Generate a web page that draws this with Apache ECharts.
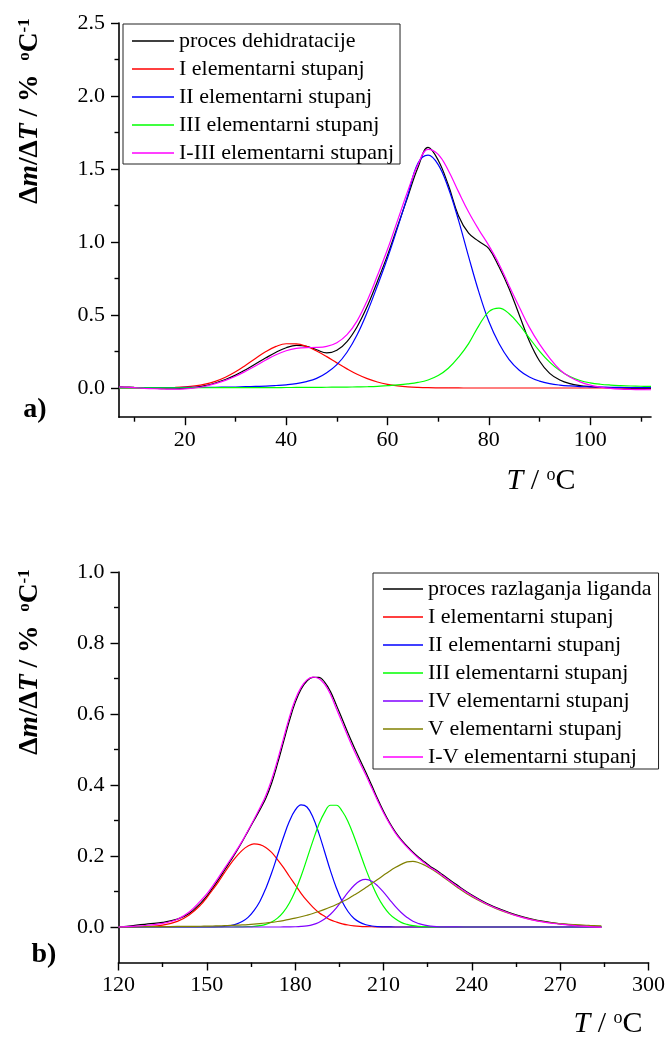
<!DOCTYPE html>
<html><head><meta charset="utf-8">
<script src="https://cdn.jsdelivr.net/npm/echarts@6/dist/echarts.min.js"></script>
<style>html,body{margin:0;padding:0;background:#fff}#c{width:667px;height:1039px}</style>
</head><body><div id="c"></div><script>
// ---------- chart a) : dehydration ----------
const tempA = [7,8,10,12,14,16,18,20,22,24,26,28,30,32,34,36,38,40,42,44,46,48,50,52,54,56,58,60,62,64,66,68,70,72,74,76,78,80,82,84,86,88,90,92,94,96,98,100,102,104,106,108,110,112];
const dehidratacija = [0.008,0.007,0.004,0.001,-0.002,-0.004,-0.004,-0.002,0.004,0.016,0.034,0.058,0.088,0.125,0.166,0.207,0.245,0.276,0.292,0.286,0.262,0.240,0.258,0.318,0.420,0.560,0.730,0.910,1.110,1.310,1.510,1.648,1.560,1.390,1.180,1.060,1.005,0.955,0.830,0.680,0.500,0.320,0.185,0.100,0.055,0.030,0.017,0.010,0.005,0.002,0.000,-0.002,-0.003,-0.004];
const a_I = [0,0,0.0001,0.0002,0.0006,0.0015,0.0034,0.0072,0.0143,0.0265,0.0457,0.0737,0.111,0.156,0.204,0.250,0.285,0.303,0.302,0.285,0.254,0.215,0.172,0.131,0.094,0.064,0.041,0.025,0.0146,0.008,0.0042,0.002,0.001,0.0004,0.0002,0.0001,0,0,0,0,0,0,0,0,0,0,0,0,0,0,0,0,0,0];
const a_II = [0.002,0.002,0.002,0.002,0.003,0.003,0.003,0.004,0.004,0.005,0.005,0.006,0.007,0.009,0.011,0.013,0.017,0.022,0.030,0.044,0.066,0.105,0.160,0.245,0.365,0.520,0.700,0.890,1.100,1.320,1.540,1.595,1.530,1.370,1.150,0.900,0.660,0.455,0.305,0.195,0.122,0.075,0.047,0.030,0.020,0.014,0.010,0.008,0.006,0.005,0.004,0.003,0.003,0.002];
const a_III = [0.0011,0.0011,0.0012,0.0012,0.0013,0.0014,0.0015,0.0016,0.0017,0.0018,0.0019,0.0020,0.0022,0.0024,0.0026,0.0028,0.0031,0.0034,0.0037,0.0041,0.0046,0.0051,0.0058,0.0065,0.0075,0.0086,0.0110,0.016,0.021,0.028,0.038,0.055,0.085,0.135,0.210,0.304,0.426,0.523,0.547,0.509,0.434,0.342,0.253,0.177,0.119,0.078,0.0514,0.0354,0.0258,0.0201,0.0164,0.0137,0.012,0.0106];
const a_sum = [0.008,0.006,0.002,-0.002,-0.005,-0.007,-0.008,-0.006,0.000,0.012,0.030,0.052,0.080,0.115,0.152,0.192,0.228,0.255,0.271,0.277,0.278,0.285,0.310,0.365,0.460,0.600,0.770,0.950,1.150,1.350,1.530,1.635,1.600,1.490,1.345,1.205,1.085,0.975,0.850,0.700,0.555,0.415,0.300,0.205,0.125,0.075,0.042,0.020,0.006,-0.003,-0.008,-0.010,-0.011,-0.012];
const xTicksA = [20,40,60,80,100];
const xMinorA = [10,30,50,70,90,110];
const yTicksA = [0,0.5,1.0,1.5,2.0,2.5];
const yMinorA = [0.25,0.75,1.25,1.75,2.25];
const namesA = ['proces dehidratacije','I elementarni stupanj','II elementarni stupanj','III elementarni stupanj','I-III elementarni stupanj'];

// ---------- chart b) : ligand decomposition ----------
const tempB = [120,125,130,135,140,144,148,150,152,154,156,158,160,162,164,166,168,170,172,174,176,178,180,182,184,186,188,190,192,194,196,198,200,202,204,206,208,210,212,214,216,218,220,222,224,226,228,230,235,240,245,250,255,260,265,270,275,280,284];
const razlaganje = [0.000,0.004,0.009,0.013,0.022,0.038,0.068,0.087,0.110,0.134,0.160,0.186,0.212,0.240,0.270,0.300,0.330,0.362,0.405,0.460,0.520,0.580,0.632,0.670,0.693,0.703,0.703,0.690,0.663,0.625,0.585,0.545,0.507,0.471,0.436,0.399,0.361,0.326,0.295,0.268,0.246,0.228,0.211,0.196,0.183,0.170,0.160,0.148,0.118,0.090,0.067,0.049,0.034,0.023,0.015,0.009,0.005,0.002,0.000];
const b_I = [0.0001,0.0003,0.0015,0.0054,0.016,0.034,0.063,0.083,0.105,0.128,0.153,0.177,0.198,0.216,0.228,0.234,0.232,0.224,0.210,0.190,0.168,0.143,0.119,0.095,0.074,0.056,0.041,0.030,0.020,0.014,0.009,0.0056,0.0034,0.002,0.0012,0.0007,0.0004,0.0002,0.0001,0,0,0,0,0,0,0,0,0,0,0,0,0,0,0,0,0,0,0,0];
const b_II = [0,0,0,0,0,0,0,0,0.0003,0.0008,0.0019,0.004,0.008,0.0152,0.027,0.046,0.072,0.108,0.152,0.202,0.252,0.297,0.329,0.344,0.338,0.310,0.265,0.212,0.158,0.110,0.071,0.043,0.024,0.013,0.0063,0.0029,0.0012,0.0005,0.0002,0,0,0,0,0,0,0,0,0,0,0,0,0,0,0,0,0,0,0,0];
const b_III = [0,0,0,0,0,0,0,0,0,0,0,0,0.0001,0.0003,0.0008,0.0017,0.0037,0.0074,0.014,0.025,0.042,0.067,0.101,0.143,0.192,0.242,0.288,0.323,0.343,0.343,0.326,0.296,0.255,0.209,0.163,0.122,0.086,0.058,0.037,0.023,0.013,0.0073,0.0038,0.0019,0.0009,0.0004,0.0002,0.0001,0,0,0,0,0,0,0,0,0,0,0];
const b_IV = [0,0,0,0,0,0,0,0,0,0,0,0,0,0,0,0,0,0,0,0,0.0001,0.0003,0.0007,0.0016,0.0034,0.0069,0.0129,0.0224,0.036,0.054,0.076,0.098,0.117,0.130,0.134,0.129,0.116,0.098,0.078,0.058,0.041,0.027,0.016,0.0094,0.0051,0.0026,0.0012,0.0005,0.0001,0,0,0,0,0,0,0,0,0,0];
const b_V = [0.000,0.0005,0.0008,0.0011,0.0015,0.0018,0.0021,0.0024,0.0028,0.0033,0.0039,0.0045,0.0052,0.0059,0.0068,0.0080,0.0095,0.0112,0.0132,0.0155,0.0182,0.0213,0.0248,0.0288,0.0332,0.0380,0.0435,0.0495,0.0562,0.0635,0.0713,0.0795,0.0900,0.1000,0.1110,0.1225,0.1340,0.1455,0.1570,0.1675,0.1765,0.1835,0.1850,0.1810,0.1740,0.1650,0.1545,0.1425,0.1120,0.0850,0.0640,0.0460,0.0325,0.0215,0.0140,0.0094,0.0065,0.0045,0.0032];
const b_sum = [0.000,0.002,0.005,0.010,0.022,0.042,0.075,0.093,0.116,0.140,0.165,0.190,0.215,0.242,0.272,0.303,0.335,0.370,0.415,0.470,0.530,0.590,0.640,0.675,0.696,0.704,0.700,0.684,0.655,0.615,0.575,0.535,0.497,0.462,0.428,0.392,0.356,0.322,0.292,0.265,0.243,0.225,0.208,0.193,0.180,0.167,0.157,0.145,0.115,0.088,0.065,0.047,0.032,0.021,0.013,0.008,0.004,0.001,-0.001];
const xTicksB = [120,150,180,210,240,270,300];
const xMinorB = [135,165,195,225,255,285];
const yTicksB = [0,0.2,0.4,0.6,0.8,1.0];
const yMinorB = [0.1,0.3,0.5,0.7,0.9];
const namesB = ['proces razlaganja liganda','I elementarni stupanj','II elementarni stupanj','III elementarni stupanj','IV elementarni stupanj','V elementarni stupanj','I-V elementarni stupanj'];

const colorsA = ['#000000','#ff0000','#0000ff','#00ff00','#ff00ff'];
const colorsB = ['#000000','#ff0000','#0000ff','#00ff00','#8000ff','#808000','#ff00ff'];

const FONT = 'Liberation Serif';
const chart = echarts.init(document.getElementById('c'), null, {renderer:'canvas', width:667, height:1039});

function pairs(xs, ys){ return xs.map((x,i)=>[x, ys[i]]); }
const axisLineStyle = {color:'#000', width:1.6};
function xPair(gridIndex, min, max, major, minor){
  return [
    {type:'value', gridIndex, min, max, position:'bottom',
     axisLine:{show:true, onZero:false, lineStyle:axisLineStyle},
     axisTick:{show:true, customValues:major, length:8, lineStyle:{color:'#000', width:1.4}},
     axisLabel:{customValues:major, margin:12, fontFamily:FONT, fontSize:22, color:'#000'},
     splitLine:{show:false}},
    {type:'value', gridIndex, min, max, position:'bottom',
     axisLine:{show:false, onZero:false},
     axisTick:{show:true, customValues:minor, length:4.5, lineStyle:{color:'#000', width:1.4}},
     axisLabel:{show:false}, splitLine:{show:false}}
  ];
}
function yPair(gridIndex, min, max, major, minor){
  return [
    {type:'value', gridIndex, min, max, position:'left',
     axisLine:{show:true, onZero:false, lineStyle:axisLineStyle},
     axisTick:{show:true, customValues:major, length:8, lineStyle:{color:'#000', width:1.4}},
     axisLabel:{customValues:major, margin:14, fontFamily:FONT, fontSize:22, color:'#000', formatter:(v)=>v.toFixed(1)},
     splitLine:{show:false}},
    {type:'value', gridIndex, min, max, position:'left',
     axisLine:{show:false, onZero:false},
     axisTick:{show:true, customValues:minor, length:4.5, lineStyle:{color:'#000', width:1.4}},
     axisLabel:{show:false}, splitLine:{show:false}}
  ];
}

const seriesA = [dehidratacija, a_I, a_II, a_III, a_sum].map((ys,i)=>({
  type:'line', name:namesA[i], xAxisIndex:0, yAxisIndex:0, data:pairs(tempA, ys),
  symbol:'none', showSymbol:false, smooth:0.4, color:colorsA[i], lineStyle:{color:colorsA[i], width:1.2}, z:2, silent:true
}));
const seriesB = [razlaganje, b_I, b_II, b_III, b_IV, b_V, b_sum].map((ys,i)=>({
  type:'line', name:namesB[i], xAxisIndex:2, yAxisIndex:2, data:pairs(tempB, ys),
  symbol:'none', showSymbol:false, smooth:0.4, color:colorsB[i], lineStyle:{color:colorsB[i], width:1.2}, z:2, silent:true
}));

const legendText = {fontFamily:FONT, fontSize:22, color:'#000', lineHeight:22};
const yTitleRich = {
  b:{fontFamily:FONT, fontSize:27.5, fontWeight:'bold', fill:'#000'},
  bi:{fontFamily:FONT, fontSize:27.5, fontWeight:'bold', fontStyle:'italic', fill:'#000'},
  sup:{fontFamily:FONT, fontSize:17, fontWeight:'bold', fill:'#000', verticalAlign:'top'}
};
const xTitleRich = {
  i:{fontFamily:FONT, fontSize:30, fontStyle:'italic', fill:'#000'},
  n:{fontFamily:FONT, fontSize:30, fill:'#000'},
  sup:{fontFamily:FONT, fontSize:18, fill:'#000', verticalAlign:'top'}
};
const yTitleText = '{b|Δ}{bi|m}{b|/Δ}{bi|T}{b| / %  }{sup|o}{b|C}{sup|-1}';
const xTitleText = '{i|T}{n| / }{sup|o}{n|C}';

chart.setOption({
  animation:false,
  backgroundColor:'#fff',
  grid:[
    {left:119, top:23, width:532, height:394.2, containLabel:false, outerBoundsMode:'none'},
    {left:118.5, top:572, width:530, height:390.5, containLabel:false, outerBoundsMode:'none'}
  ],
  xAxis:[...xPair(0, 7, 112, xTicksA, xMinorA), ...xPair(1, 120, 300, xTicksB, xMinorB)],
  yAxis:[...yPair(0, -0.2, 2.5, yTicksA, yMinorA), ...yPair(1, -0.1, 1.0, yTicksB, yMinorB)],
  legend:[
    {data:namesA, orient:'vertical', left:123, top:24, padding:[6,6,0,9], itemGap:6,
     icon:'rect', itemWidth:42, itemHeight:1.6, textStyle:legendText, borderColor:'#222', borderWidth:1,
     backgroundColor:'#fff', selectedMode:false},
    {data:namesB, orient:'vertical', left:373, top:573, padding:[5,7,1,10], itemGap:6,
     icon:'rect', itemWidth:40, itemHeight:1.6, textStyle:legendText, borderColor:'#222', borderWidth:1,
     backgroundColor:'#fff', selectedMode:false}
  ],
  graphic:[
    {type:'text', x:30, y:111, rotation:Math.PI/2, style:{text:yTitleText, rich:yTitleRich, align:'center', verticalAlign:'middle'}},
    {type:'text', x:30, y:662, rotation:Math.PI/2, style:{text:yTitleText, rich:yTitleRich, align:'center', verticalAlign:'middle'}},
    {type:'text', x:541, y:481, style:{text:xTitleText, rich:xTitleRich, align:'center', verticalAlign:'middle'}},
    {type:'text', x:608, y:1024, style:{text:xTitleText, rich:xTitleRich, align:'center', verticalAlign:'middle'}},
    {type:'text', x:35, y:410, style:{text:'a)', fontFamily:FONT, fontSize:28, fontWeight:'bold', fill:'#000', align:'center', verticalAlign:'middle'}},
    {type:'text', x:44, y:955, style:{text:'b)', fontFamily:FONT, fontSize:28, fontWeight:'bold', fill:'#000', align:'center', verticalAlign:'middle'}}
  ],
  series:[...seriesA, ...seriesB]
});
</script></body></html>
